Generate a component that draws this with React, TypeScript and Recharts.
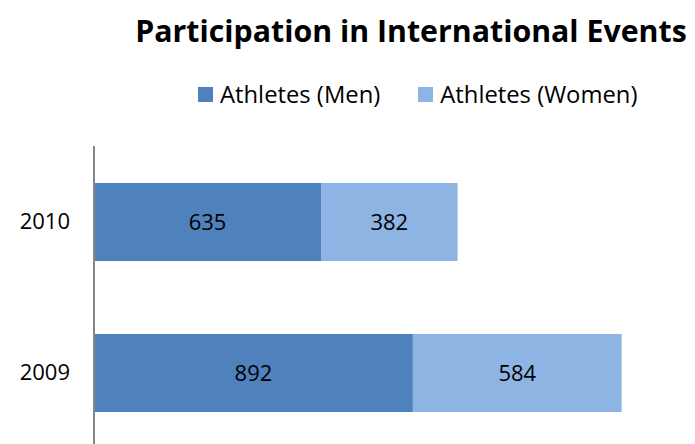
import { BarChart, Bar, XAxis, YAxis, LabelList } from "recharts";

const years = ["2010", "2009"];
const menValues = [635, 892];
const womenValues = [382, 584];
const seriesNames = ["Athletes (Men)", "Athletes (Women)"];
const colors = ["#4F81BD", "#8EB4E3"];

const data = years.map((year, i) => ({
  year,
  men: menValues[i],
  women: womenValues[i],
}));

const FONT = "'Open Sans', sans-serif";

function ChartLegend() {
  return (
    <div
      style={{
        position: "absolute",
        top: 70,
        left: 190,
        display: "flex",
        alignItems: "center",
        fontFamily: FONT,
        fontSize: 23.8,
        lineHeight: "33px",
        color: "#000",
        whiteSpace: "nowrap",
      }}
    >
      {seriesNames.map((name, i) => (
        <div key={name} style={{ display: "flex", alignItems: "center", marginRight: i === 0 ? 38 : 0 }}>
          <span style={{ width: 15, height: 15, background: colors[i], display: "inline-block", marginRight: 7 }} />
          <span>{name}</span>
        </div>
      ))}
    </div>
  );
}

export default function App() {
  return (
    <div style={{ position: "relative", width: 680, height: 436, overflow: "hidden", background: "#fff" }}>
      <div
        style={{
          position: "absolute",
          top: 2,
          left: 126,
          width: 554,
          textAlign: "center",
          fontFamily: FONT,
          fontWeight: 700,
          fontSize: 30.3,
          color: "#000",
          whiteSpace: "nowrap",
        }}
      >
        Participation in International Events
      </div>
      <ChartLegend />
      <BarChart
        width={680}
        height={440}
        data={data}
        layout="vertical"
        margin={{ top: 138, right: 22, bottom: 0, left: 0 }}
      >
        <XAxis type="number" hide domain={[0, 1600]} />
        <YAxis
          type="category"
          dataKey="year"
          width={86}
          tickLine={false}
          tickSize={0}
          tickMargin={24}
          axisLine={{ stroke: "#868686", strokeWidth: 2 }}
          tick={{ fill: "#000", fontSize: 22, fontFamily: FONT }}
        />
        <Bar dataKey="men" name={seriesNames[0]} stackId="a" fill={colors[0]} barSize={78} isAnimationActive={false}>
          <LabelList dataKey="men" position="center" fill="#000" fontSize={22} fontFamily={FONT} />
        </Bar>
        <Bar dataKey="women" name={seriesNames[1]} stackId="a" fill={colors[1]} barSize={78} isAnimationActive={false}>
          <LabelList dataKey="women" position="center" fill="#000" fontSize={22} fontFamily={FONT} />
        </Bar>
      </BarChart>
    </div>
  );
}
